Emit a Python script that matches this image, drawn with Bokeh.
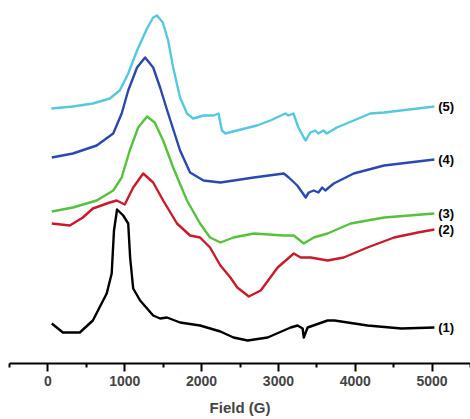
from bokeh.plotting import figure
from bokeh.models import Range1d, FixedTicker, ColumnDataSource
from bokeh.core.properties import value
from bokeh.embed import file_html
from bokeh.resources import INLINE

# Field (G) and intensity (arbitrary units, stacked) for each spectrum
field_1 = [50, 195, 415, 585, 765, 830, 860, 900, 980, 1045, 1070, 1110, 1200, 1370, 1460, 1550,
           1720, 1980, 2245, 2415, 2600, 2860, 3160, 3250, 3315, 3330, 3380, 3640, 3730, 4160, 4600, 5030]
int_1 = [40, 31, 31, 43, 70, 90, 133, 154, 148, 140, 106, 75, 63, 48, 45, 46,
         41, 38, 32, 26, 23, 26, 36, 38, 35, 26, 36, 43, 43, 38, 35, 36]

field_2 = [50, 285, 455, 585, 805, 895, 1000, 1110, 1240, 1370, 1500, 1680, 1850, 1980, 2110, 2245,
           2375, 2465, 2615, 2770, 2990, 3200, 3290, 3420, 3640, 3850, 4160, 4505, 4815, 5030]
int_2 = [140, 138, 146, 155, 161, 163, 159, 176, 190, 181, 163, 140, 128, 126, 116, 98,
         86, 76, 67, 73, 96, 110, 106, 106, 103, 106, 116, 126, 131, 134]

field_3 = [50, 325, 635, 850, 960, 1065, 1175, 1290, 1390, 1500, 1630, 1810, 1980, 2110, 2245,
           2415, 2680, 3070, 3200, 3330, 3460, 3640, 3940, 4375, 5030]
int_3 = [152, 156, 163, 173, 186, 213, 236, 247, 241, 223, 196, 163, 140, 126, 121,
         126, 130, 128, 128, 120, 126, 130, 140, 146, 150]

field_4 = [50, 325, 635, 850, 960, 1045, 1160, 1265, 1370, 1460, 1565, 1720, 1850, 2025, 2245,
           2680, 3070, 3135, 3245, 3310, 3355, 3395, 3460, 3520, 3570, 3610, 3720, 3980, 4375, 5030]
int_4 = [206, 210, 218, 230, 250, 273, 296, 306, 296, 276, 250, 213, 191, 183, 181,
         186, 190, 186, 178, 171, 166, 171, 173, 171, 176, 173, 180, 190, 198, 204]

field_5 = [44, 325, 585, 805, 935, 1045, 1160, 1290, 1370, 1420, 1495, 1565, 1630, 1720, 1810,
           1890, 2025, 2155, 2220, 2265, 2310, 2460, 2720, 2895, 3090, 3130, 3195, 3260, 3330,
           3355, 3415, 3480, 3520, 3585, 3630, 3760, 3980, 4195, 4375, 5030]
int_5 = [255, 257, 260, 265, 273, 290, 313, 335, 346, 348, 341, 323, 296, 266, 250,
         245, 248, 248, 250, 233, 230, 233, 238, 243, 250, 248, 250, 236, 226,
         223, 231, 233, 230, 233, 230, 236, 243, 250, 251, 257]

labels = ["(1)", "(2)", "(3)", "(4)", "(5)"]
colors = ["#000000", "#c81a2a", "#55c23e", "#2b48b0", "#55c8e0"]
x_ticks = [0, 1000, 2000, 3000, 4000, 5000]

p = figure(width=470, height=419, output_backend="svg", toolbar_location=None,
           x_range=Range1d(-500, 5500), y_range=Range1d(0, 355),
           min_border_left=9, min_border_right=0, min_border_top=8, min_border_bottom=56)
p.outline_line_color = None
p.xgrid.visible = False
p.ygrid.visible = False
p.yaxis.visible = False

fields = [field_1, field_2, field_3, field_4, field_5]
ints = [int_1, int_2, int_3, int_4, int_5]
for f, v, c in zip(fields, ints, colors):
    p.line(f, v, line_color=c, line_width=2.4, line_join="round")

src = ColumnDataSource(dict(x=[5080] * 5, y=[v[-1] for v in ints], t=labels))
p.text(x="x", y="y", text="t", source=src, text_font=value("Liberation Sans"),
       text_font_style="bold", text_font_size="13px", text_baseline="middle",
       text_align="left", text_color="#000000")

ax = p.xaxis[0]
ax.ticker = FixedTicker(ticks=x_ticks, minor_ticks=[-500, 500, 1500, 2500, 3500, 4500, 5500])
ax.axis_label = "Field (G)"
ax.axis_label_text_font = "Liberation Sans"
ax.axis_label_text_font_style = "bold"
ax.axis_label_text_font_size = "15px"
ax.axis_label_standoff = 10
ax.major_label_text_font = "Liberation Sans"
ax.major_label_text_font_style = "bold"
ax.major_label_text_font_size = "14px"
ax.major_label_standoff = 4
ax.axis_line_width = 2
ax.axis_line_color = "#000000"
ax.major_tick_line_width = 2
ax.minor_tick_line_width = 2
ax.major_tick_in = 0
ax.major_tick_out = 8
ax.minor_tick_in = 0
ax.minor_tick_out = 4

open("out.html", "w").write(file_html(p, INLINE))
